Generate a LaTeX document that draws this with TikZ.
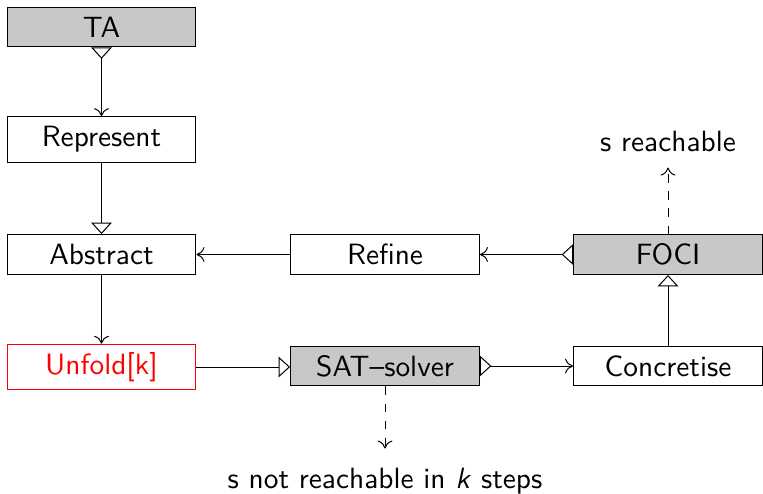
\documentclass[tikz,border=0pt]{standalone}
\usetikzlibrary{arrows.meta}
\definecolor{boxgray}{RGB}{200,200,200}
\begin{document}
\begin{tikzpicture}[x=0.351pt,y=-0.351pt,font=\sffamily\fontsize{10.3pt}{12pt}\selectfont,
  stage/.style={draw,rectangle,line width=0.35pt,minimum width=66.3pt,minimum height=14pt,inner sep=0pt},
  shaded/.style={stage,fill=boxgray},
  tall/.style={minimum height=16pt},
  flow/.style={line width=0.35pt},
  opentip/.tip={Triangle[open,length=4pt,width=7.2pt]},
  plaintip/.tip={To[length=2.8pt,width=5.2pt]},
  outcome/.style={inner sep=1pt}]
\useasboundingbox (0,0) rectangle (763,493);

% left column
\node[shaded] (ta) at (101.5,27) {TA};
\node[stage,tall] (rep) at (101.5,139.5) {Represent};
\node[stage] (abs) at (101.5,254.5) {Abstract};
\node[stage,tall,draw=red,text=red] (unf) at (101.5,367) {Unfold[k]};

% middle and right
\node[stage] (ref) at (385,254.5) {Refine};
\node[shaded] (foci) at (668,254.5) {FOCI};
\node[shaded] (sat) at (385,366) {SAT--solver};
\node[stage] (con) at (668,366) {Concretise};

% results
\node[outcome,anchor=base] (reach) at (668,151) {s reachable};
\node[outcome,anchor=base] (noreach) at (385,488) {s not reachable in \textit{k} steps};

% connectors
\draw[flow,{opentip[reversed]}-plaintip] (ta) -- (rep);
\draw[flow,-opentip] (rep) -- (abs);
\draw[flow,-plaintip] (abs) -- (unf);
\draw[flow,-plaintip] (ref) -- (abs);
\draw[flow,{opentip[reversed]}-plaintip] (foci) -- (ref);
\draw[flow,dashed,-plaintip,shorten >=4.5pt] (foci) -- (reach);
\draw[flow,-opentip] (unf.east) -- (unf.east -| sat.west);
\draw[flow,{opentip[reversed]}-plaintip] (sat) -- (con);
\draw[flow,-opentip] (con) -- (foci);
\draw[flow,dashed,-plaintip,shorten >=5.5pt] (sat) -- (noreach);
\end{tikzpicture}
\end{document}
